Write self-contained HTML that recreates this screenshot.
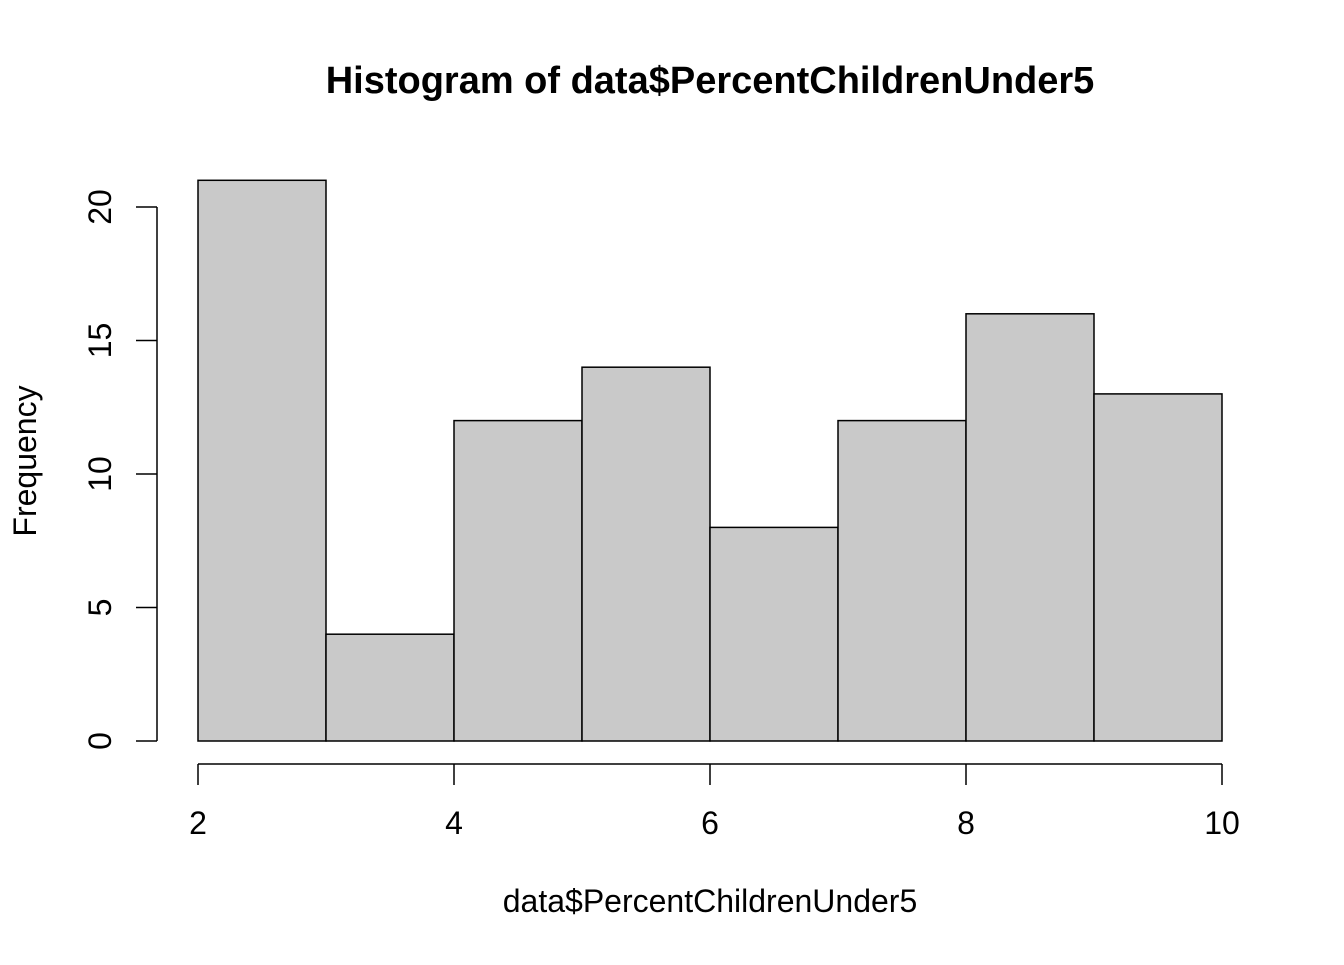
<!DOCTYPE html>
<html><head><meta charset="utf-8"><style>
body{margin:0;background:#fff;}
svg text{font-family:"Liberation Sans",Arial,sans-serif;fill:#000;}
</style></head><body>
<svg id="chart" width="1344" height="960" viewBox="0 0 1344 960" xmlns="http://www.w3.org/2000/svg">
<rect width="1344" height="960" fill="#fff"/>
<text x="710" y="93" font-size="38" font-weight="bold" text-anchor="middle">Histogram of data$PercentChildrenUnder5</text>
<text x="710" y="912" font-size="32" text-anchor="middle">data$PercentChildrenUnder5</text>
<text transform="translate(36,461) rotate(-90)" font-size="32" text-anchor="middle">Frequency</text>
<g id="bars"></g><g id="xaxis"></g><g id="yaxis"></g>
</svg>
<script>
const binEdges=[2,3,4,5,6,7,8,9,10];
const counts=[21,4,12,14,8,12,16,13];
const xTicks=[2,4,6,8,10];
const yTicks=[0,5,10,15,20];
const NS="http://www.w3.org/2000/svg";
function xs(v){return 198+(v-2)*128;}
function ys(v){return 741-v*26.7;}
function mk(tag,attrs,parent){const e=document.createElementNS(NS,tag);for(const k in attrs)e.setAttribute(k,attrs[k]);parent.appendChild(e);return e;}
const bars=document.getElementById('bars');
counts.forEach((c,i)=>{
  const r=mk('rect',{x:xs(binEdges[i]),y:ys(c),width:xs(binEdges[i+1])-xs(binEdges[i]),height:ys(0)-ys(c),fill:'#c9c9c9',stroke:'#000','stroke-width':1.5},bars);
  
  
});
const xa=document.getElementById('xaxis');


mk('line',{x1:xs(xTicks[0]),x2:xs(xTicks[xTicks.length-1]),y1:764,y2:764,stroke:'#000','stroke-width':1.5},xa);
xTicks.forEach(t=>{
  mk('line',{x1:xs(t),x2:xs(t),y1:764,y2:785,stroke:'#000','stroke-width':1.5},xa);
  const tx=mk('text',{x:xs(t),y:834,'font-size':32,'text-anchor':'middle'},xa);
  tx.textContent=t;
  
  
});
const ya=document.getElementById('yaxis');


mk('line',{x1:157,x2:157,y1:ys(yTicks[0]),y2:ys(yTicks[yTicks.length-1]),stroke:'#000','stroke-width':1.5},ya);
yTicks.forEach(t=>{
  mk('line',{x1:136,x2:157,y1:ys(t),y2:ys(t),stroke:'#000','stroke-width':1.5},ya);
  const tx=mk('text',{transform:'translate(111,'+ys(t)+') rotate(-90)','font-size':32,'text-anchor':'middle'},ya);
  tx.textContent=t;
  
  
});
</script>
</body></html>
